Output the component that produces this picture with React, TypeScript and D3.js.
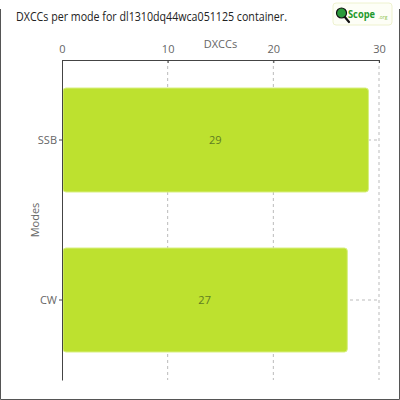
import React, { useEffect, useRef } from 'react';
import * as d3 from 'd3';

const modes = ['SSB', 'CW'];
const dxccs = [29, 27];
const xTicks = [0, 10, 20, 30];

const titleText = 'DXCCs per mode for dl1310dq44wca051125 container.';
const font = '"Open Sans", "DejaVu Sans", sans-serif';

export default function App() {
  const svgRef = useRef<SVGSVGElement>(null);

  useEffect(() => {
    if (!svgRef.current) return;
    const width = 400;
    const height = 400;
    const margin = { top: 60, right: 21, bottom: 20, left: 62 };
    const innerWidth = width - margin.left - margin.right;
    const innerHeight = height - margin.top - margin.bottom;

    const svg = d3.select(svgRef.current);
    svg.selectAll('*').remove();

    svg.append('rect')
      .attr('width', width)
      .attr('height', height)
      .attr('fill', '#fff');

    // frame (no top edge)
    svg.append('path')
      .attr('d', `M0.5,9 V399.5 H399.5 V9`)
      .attr('fill', 'none')
      .attr('stroke', '#555')
      .attr('stroke-width', 1);

    // title
    svg.append('text')
      .attr('x', 16)
      .attr('y', 21)
      .attr('font-family', font)
      .attr('font-size', '12px')
      .attr('fill', '#222')
      .attr('textLength', 271)
      .attr('lengthAdjust', 'spacingAndGlyphs')
      .text(titleText);

    // logo
    const logo = svg.append('g').attr('transform', 'translate(333,3)');
    logo.append('rect')
      .attr('width', 59).attr('height', 22).attr('rx', 3)
      .attr('fill', '#fdfef6').attr('stroke', '#eef2cf');
    logo.append('line')
      .attr('x1', 11).attr('y1', 13).attr('x2', 16).attr('y2', 19)
      .attr('stroke', '#111').attr('stroke-width', 2.2).attr('stroke-linecap', 'round');
    logo.append('circle')
      .attr('cx', 8.5).attr('cy', 10).attr('r', 5)
      .attr('fill', '#2a9a3a').attr('stroke', '#111').attr('stroke-width', 1.2);
    logo.append('text')
      .attr('x', 15).attr('y', 15)
      .attr('font-family', font).attr('font-weight', 'bold').attr('font-size', '11px')
      .attr('fill', '#1f9a2c')
      .attr('textLength', 27)
      .attr('lengthAdjust', 'spacingAndGlyphs')
      .text('Scope');
    logo.append('text')
      .attr('x', 45.5).attr('y', 16)
      .attr('font-family', font).attr('font-size', '5px')
      .attr('fill', '#8cc34a')
      .text('.org');

    const g = svg.append('g')
      .attr('transform', `translate(${margin.left},${margin.top})`);

    const x = d3.scaleLinear().domain([0, 30]).range([0, innerWidth]);
    const y = d3.scaleBand().domain(modes).range([0, innerHeight])
      .paddingInner(0.35).paddingOuter(0.175);

    // grid
    g.append('g')
      .selectAll('line')
      .data(xTicks.filter(d => d > 0))
      .join('line')
      .attr('x1', d => x(d)).attr('x2', d => x(d))
      .attr('y1', 0).attr('y2', innerHeight)
      .attr('stroke', '#bbb').attr('stroke-dasharray', '3,3');
    g.append('g')
      .selectAll('line')
      .data(modes)
      .join('line')
      .attr('x1', 0).attr('x2', innerWidth)
      .attr('y1', d => y(d)! + y.bandwidth() / 2)
      .attr('y2', d => y(d)! + y.bandwidth() / 2)
      .attr('stroke', '#bbb').attr('stroke-dasharray', '3,3');

    // bars
    g.append('g')
      .selectAll('rect')
      .data(modes)
      .join('rect')
      .attr('x', 1)
      .attr('y', d => y(d)!)
      .attr('width', (d, i) => x(dxccs[i]) - 1)
      .attr('height', y.bandwidth())
      .attr('rx', 3)
      .attr('fill', '#bde12f')
      .attr('stroke', '#d8ef80')
      .attr('stroke-width', 1);

    g.append('g')
      .selectAll('text')
      .data(modes)
      .join('text')
      .attr('x', (d, i) => x(dxccs[i]) / 2)
      .attr('y', d => y(d)! + y.bandwidth() / 2 + 4)
      .attr('text-anchor', 'middle')
      .attr('font-family', font)
      .attr('font-size', '11px')
      .attr('fill', '#5f7d22')
      .text((d, i) => dxccs[i]);

    // x axis (top)
    const xAxis = g.append('g')
      .call(d3.axisTop(x).tickValues(xTicks).tickSize(-3).tickPadding(7));
    xAxis.select('.domain').attr('stroke', '#444');
    xAxis.selectAll('.tick line').attr('stroke', '#444');
    xAxis.selectAll('text')
      .attr('font-family', font)
      .attr('font-size', '11px')
      .attr('fill', '#666');

    g.append('text')
      .attr('x', innerWidth / 2)
      .attr('y', -12)
      .attr('text-anchor', 'middle')
      .attr('font-family', font)
      .attr('font-size', '11px')
      .attr('fill', '#666')
      .text('DXCCs');

    // y axis
    const yAxis = g.append('g')
      .call(d3.axisLeft(y).tickSize(3).tickSizeOuter(0).tickPadding(2));
    yAxis.select('.domain').attr('stroke', '#444');
    yAxis.selectAll('.tick line').attr('stroke', '#444');
    yAxis.selectAll('text')
      .attr('font-family', font)
      .attr('font-size', '11px')
      .attr('fill', '#666');

    g.append('text')
      .attr('transform', `translate(${-23},${innerHeight / 2}) rotate(-90)`)
      .attr('text-anchor', 'middle')
      .attr('font-family', font)
      .attr('font-size', '11px')
      .attr('fill', '#666')
      .text('Modes');
  }, []);

  return (
    <svg
      ref={svgRef}
      width={400}
      height={400}
      style={{ position: 'absolute', left: 0, top: 0, display: 'block' }}
    />
  );
}
